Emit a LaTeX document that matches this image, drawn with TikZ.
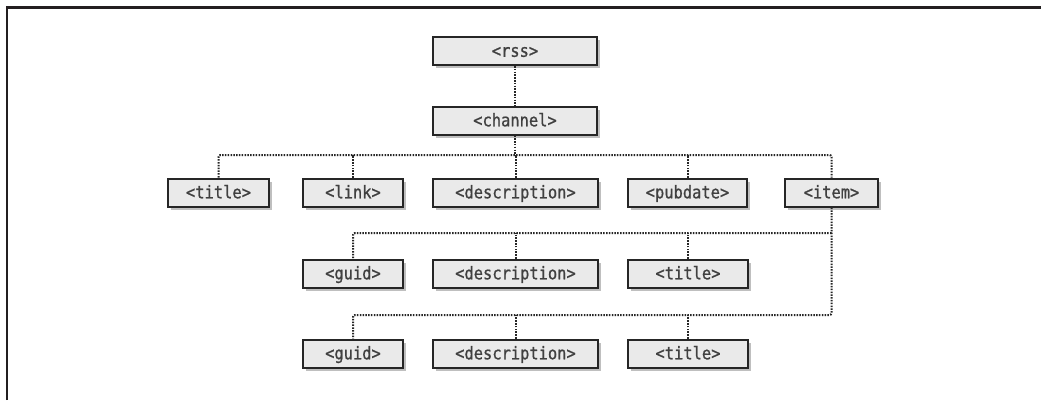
\documentclass[tikz,border=0pt]{standalone}
\usepackage{fontspec}
\newfontfamily\boxfont[FakeBold=0.9,FakeStretch=0.88]{DejaVu Sans Mono}
\usetikzlibrary{shadows}
\definecolor{frameblack}{HTML}{231F20}
\definecolor{boxfill}{HTML}{EAEAEA}
\tikzset{
  tagbox/.style={draw=black!85, line width=2pt, fill=boxfill,
    minimum height=28pt, inner sep=0pt,
    font=\boxfont\fontsize{17.5}{19}\selectfont, text=black!75,
    text height=16pt, text depth=4.4pt,
    drop shadow={shadow xshift=3pt, shadow yshift=-3pt, fill=black!50, opacity=0.5}},
  conn/.style={draw=black!85, line width=2pt, dash pattern=on 1.5pt off 1.3pt},
}
\begin{document}
\begin{tikzpicture}[x=1pt,y=-1pt]
\useasboundingbox (0,0) rectangle (1041,400);
\fill[white] (0,0) rectangle (1041,400);
\draw[frameblack, line width=2.2pt] (7,400) -- (7,7.5) -- (1041,7.5);

% nodes
\node[tagbox, minimum width=164pt] (rss) at (515,51) {<rss>};
\node[tagbox, minimum width=164pt] (channel) at (515,120.5) {<channel>};

\node[tagbox, minimum width=101pt] (title1) at (218.5,192.5) {<title>};
\node[tagbox, minimum width=100pt] (link1) at (353,192.5) {<link>};
\node[tagbox, minimum width=165pt] (desc1) at (515.5,192.5) {<description>};
\node[tagbox, minimum width=119pt] (pub1) at (687.5,192.5) {<pubdate>};
\node[tagbox, minimum width=93pt] (item1) at (831.5,192.5) {<item>};

\node[tagbox, minimum width=100pt] (guid2) at (353,273.5) {<guid>};
\node[tagbox, minimum width=165pt] (desc2) at (515.5,273.5) {<description>};
\node[tagbox, minimum width=120pt] (title2) at (688,273.5) {<title>};

\node[tagbox, minimum width=100pt] (guid3) at (353,353.5) {<guid>};
\node[tagbox, minimum width=165pt] (desc3) at (515.5,353.5) {<description>};
\node[tagbox, minimum width=120pt] (title3) at (688,353.5) {<title>};

\coordinate (bus1) at (515,155);
\coordinate (bus2) at (515,233);
\coordinate (bus3) at (515,315);

% connectors
\draw[conn] (rss.south) -- (channel.north);
\draw[conn] (channel.south) -- (bus1);
\draw[conn, rounded corners=2pt] (title1.north) |- (bus1) -| (item1.north);
\draw[conn] (link1.north) -- (link1.north |- bus1);
\draw[conn] (desc1.north) -- (desc1.north |- bus1);
\draw[conn] (pub1.north) -- (pub1.north |- bus1);

\draw[conn, rounded corners=2pt] (item1.south) |- (bus3) -| (guid3.north);
\draw[conn, rounded corners=2pt] (item1.south |- bus2) -| (guid2.north);
\draw[conn] (desc2.north) -- (desc2.north |- bus2);
\draw[conn] (title2.north) -- (title2.north |- bus2);
\draw[conn] (desc3.north) -- (desc3.north |- bus3);
\draw[conn] (title3.north) -- (title3.north |- bus3);
\end{tikzpicture}
\end{document}
